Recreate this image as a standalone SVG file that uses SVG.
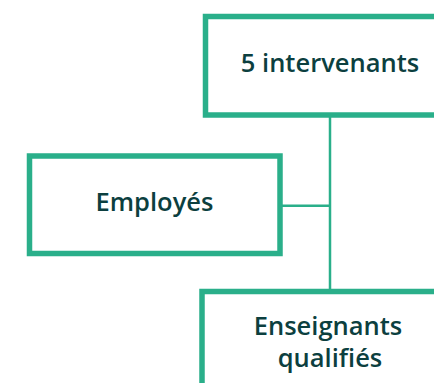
<svg xmlns="http://www.w3.org/2000/svg" width="434" height="383" viewBox="0 0 434 383">
<style>
.box{fill:#ffffff;stroke:#2aaf8a;stroke-width:5.5}
.lbl{font-family:"Open Sans","Noto Sans",sans-serif;font-weight:600;font-size:25.5px;fill:#0c3f3f;text-anchor:middle}
.conn{stroke:#2aaf8a;stroke-width:2.5;fill:none}
</style>
<rect width="434" height="383" fill="#ffffff"/>
<g id="connectors">
<path class="conn" d="M330 117 V290"/>
<path class="conn" d="M282 205.7 H330"/>
</g>
<g id="node-intervenants">
<rect class="box" x="205.5" y="16.5" width="240" height="98.5"/>
<text class="lbl" x="330" y="72">5 intervenants</text>
</g>
<g id="node-employes">
<rect class="box" x="29.5" y="156" width="250.5" height="97.5"/>
<text class="lbl" x="154.5" y="211">Employés</text>
</g>
<g id="node-enseignants">
<rect class="box" x="202" y="291.5" width="250" height="120"/>
<text class="lbl" x="328" y="335">Enseignants</text>
<text class="lbl" x="330" y="367">qualifiés</text>
</g>
</svg>
